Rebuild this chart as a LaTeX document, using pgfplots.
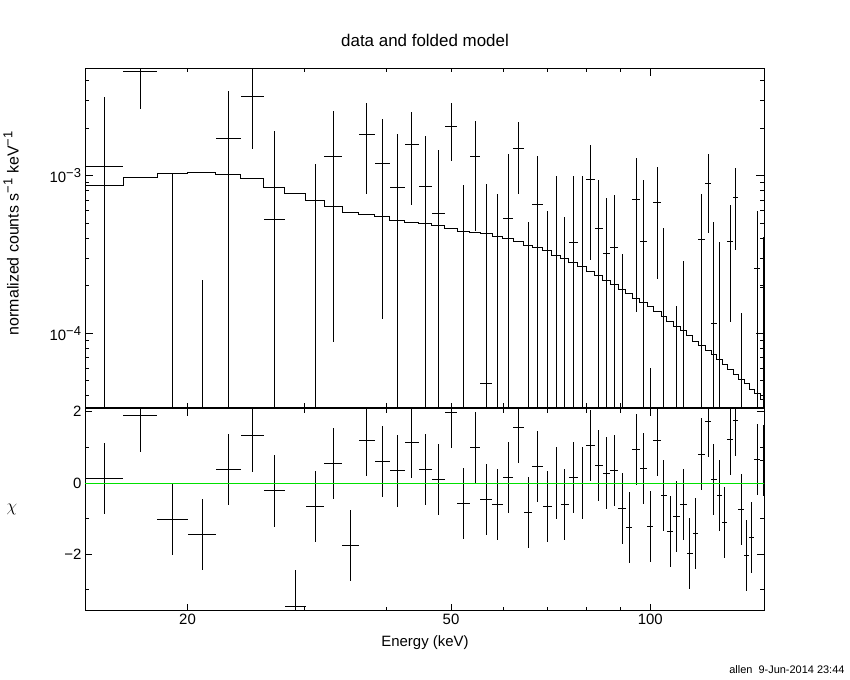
\documentclass[border=0pt]{standalone}
\usepackage{pgfplots}
\pgfplotsset{compat=1.18}
\usepackage{pgfplotstable}
\usepackage{fontspec}
\setmainfont{Liberation Sans}
\definecolor{zgreen}{RGB}{0,225,0}
\newcommand\lab{\fontsize{15}{18}\selectfont}

\pgfplotstableread{
x xlo xhi y ylo yhi
15.00 14.00 16.00 1.147e-3 1e-6 3.158e-3
17.00 16.00 18.00 4.597e-3 2.661e-3 6.53e-3
19.00 18.00 20.00 1e-6 1e-6 1.03e-3
21.03 20.00 22.05 1e-6 1e-6 2.18e-4
23.05 22.05 24.05 1.717e-3 1e-6 3.447e-3
25.05 24.05 26.05 3.19e-3 1.483e-3 4.9e-3
27.04 26.05 28.03 5.29e-4 1e-6 1.921e-3
31.17 30.16 32.17 1e-6 1e-6 1.186e-3
33.21 32.17 34.25 1.327e-3 8.8e-5 2.573e-3
37.30 36.26 38.34 1.831e-3 7.7e-4 2.892e-3
39.39 38.34 40.43 1.199e-3 1.227e-4 2.28e-3
41.49 40.43 42.55 8.44e-4 1e-6 1.839e-3
43.62 42.55 44.68 1.582e-3 6.55e-4 2.526e-3
45.74 44.68 46.79 8.56e-4 1e-6 1.778e-3
47.87 46.79 48.95 5.77e-4 1e-6 1.456e-3
50.02 48.95 51.09 2.058e-3 1.245e-3 2.879e-3
52.25 51.09 53.40 1e-6 1e-6 8.69e-4
54.38 53.40 55.35 1.327e-3 4.48e-4 2.214e-3
56.53 55.35 57.71 4.77e-5 1e-6 8.86e-4
58.77 57.71 59.83 1e-6 1e-6 7.65e-4
60.96 59.83 62.08 5.37e-4 1e-6 1.373e-3
63.26 62.08 64.43 1.492e-3 7.69e-4 2.191e-3
65.41 64.43 66.38 1e-6 1e-6 5.08e-4
67.58 66.38 68.78 6.58e-4 1e-6 1.327e-3
69.88 68.78 70.97 1e-6 1e-6 5.97e-4
72.10 70.97 73.23 3.11e-4 1e-6 9.96e-4
74.30 73.23 75.37 1e-6 1e-6 5.45e-4
76.57 75.37 77.77 3.78e-4 1e-6 9.96e-4
78.87 77.77 79.97 2.65e-4 1e-6 9.96e-4
81.20 79.97 82.42 9.39e-4 2.92e-4 1.566e-3
83.56 82.42 84.69 4.64e-4 1e-6 9.39e-4
85.86 84.69 87.02 3.22e-4 1e-6 7.25e-4
88.25 87.02 89.48 3.51e-4 1e-6 7.54e-4
90.65 89.48 91.81 1e-6 1e-6 3.18e-4
95.17 93.94 96.39 7.11e-4 1.371e-4 1.289e-3
97.68 96.39 98.97 3.84e-4 1e-6 9.39e-4
100.02 98.97 101.06 1e-6 1e-6 6.05e-5
102.43 101.06 103.8 6.78e-4 2.21e-4 1.131e-3
104.85 103.8 105.9 1e-6 1e-6 4.66e-4
109.6 108.3 110.9 1e-6 1e-6 1.49e-4
112.2 110.9 113.5 1e-6 1e-6 2.88e-4
119.6 118.2 121.0 3.91e-4 1e-6 7.65e-4
122.25 121.0 123.5 8.95e-4 4.31e-4 1.373e-3
124.75 123.5 126.0 1.157e-4 1e-6 5.08e-4
127.25 126.0 128.5 1e-6 1e-6 3.80e-4
132.1 130.7 133.5 3.84e-4 1.185e-4 6.52e-4
134.65 133.5 135.8 7.32e-4 3.39e-4 1.119e-3
137.2 135.8 138.6 1e-6 1e-6 1.345e-4
145.05 143.6 146.5 2.585e-4 1e-6 5.99e-4
148.25 146.5 150.0 1.947e-4 1e-6 4.10e-4
}\dataup

\pgfplotstableread{
xlo m
14.00 8.60e-4
16.00 9.77e-4
18.00 1.025e-3
20.00 1.045e-3
22.05 1.021e-3
24.05 9.57e-4
26.05 8.44e-4
28.03 7.69e-4
30.16 6.98e-4
32.17 6.33e-4
34.25 5.86e-4
36.26 5.65e-4
38.34 5.47e-4
40.43 5.21e-4
42.55 5.03e-4
44.68 4.94e-4
46.79 4.80e-4
48.95 4.61e-4
51.09 4.44e-4
53.40 4.35e-4
55.35 4.27e-4
57.71 4.14e-4
59.83 3.97e-4
62.08 3.81e-4
64.43 3.63e-4
66.38 3.48e-4
68.78 3.33e-4
70.97 3.11e-4
73.23 2.96e-4
75.37 2.81e-4
77.77 2.65e-4
79.97 2.48e-4
82.42 2.31e-4
84.69 2.16e-4
87.02 2.05e-4
89.48 1.90e-4
91.81 1.79e-4
93.94 1.67e-4
96.39 1.56e-4
98.97 1.475e-4
101.06 1.365e-4
103.8 1.274e-4
105.9 1.185e-4
108.3 1.101e-4
110.9 1.039e-4
113.5 9.61e-5
115.9 8.93e-5
118.2 8.34e-5
121.0 7.83e-5
123.5 7.28e-5
126.0 6.77e-5
128.5 6.29e-5
130.7 5.85e-5
133.5 5.49e-5
135.8 5.10e-5
138.6 4.77e-5
141.1 4.41e-5
143.6 4.12e-5
146.5 3.81e-5
150.0 3.81e-5
}\model

\pgfplotstableread{
x xlo xhi chi
15.00 14.00 16.00 0.13
17.00 16.00 18.00 1.88
19.00 18.00 20.00 -1.02
21.03 20.00 22.05 -1.44
23.05 22.05 24.05 0.38
25.05 24.05 26.05 1.32
27.04 26.05 28.03 -0.22
29.10 28.03 30.16 -3.45
31.17 30.16 32.17 -0.65
33.21 32.17 34.25 0.55
35.26 34.25 36.26 -1.75
37.30 36.26 38.34 1.20
39.39 38.34 40.43 0.61
41.49 40.43 42.55 0.34
43.62 42.55 44.68 1.14
45.74 44.68 46.79 0.38
47.87 46.79 48.95 0.10
50.02 48.95 51.09 1.98
52.25 51.09 53.40 -0.57
54.38 53.40 55.35 1.00
56.53 55.35 57.71 -0.46
58.77 57.71 59.83 -0.60
60.96 59.83 62.08 0.16
63.26 62.08 64.43 1.56
65.41 64.43 66.38 -0.82
67.58 66.38 68.78 0.47
69.88 68.78 70.97 -0.65
72.10 70.97 73.23 0.00
74.30 73.23 75.37 -0.60
76.57 75.37 77.77 0.16
78.87 77.77 79.97 0.00
81.20 79.97 82.42 1.06
83.56 82.42 84.69 0.50
85.86 84.69 87.02 0.28
88.25 87.02 89.48 0.36
90.65 89.48 91.81 -0.71
92.88 91.81 93.94 -1.24
95.17 93.94 96.39 0.94
97.68 96.39 98.97 0.41
100.02 98.97 101.06 -1.22
102.43 101.06 103.8 1.20
104.85 103.8 105.9 -0.35
107.1 105.9 108.3 -1.36
109.6 108.3 110.9 -0.93
112.2 110.9 113.5 -0.60
114.7 113.5 115.9 -1.97
117.05 115.9 118.2 -1.41
119.6 118.2 121.0 0.81
122.25 121.0 123.5 1.73
124.75 123.5 126.0 0.10
127.25 126.0 128.5 -0.35
129.6 128.5 130.7 -1.10
132.1 130.7 133.5 1.22
134.65 133.5 135.8 1.76
137.2 135.8 138.6 -0.74
139.85 138.6 141.1 -2.03
142.35 141.1 143.6 -1.53
145.05 143.6 146.5 0.66
148.25 146.5 150.0 0.64
}\datalo

\begin{document}
\begin{tikzpicture}
\path[use as bounding box] (0,0) rectangle (850bp,680bp);

\begin{axis}[
  scale only axis, width=679bp, height=339bp,
  at={(85bp,272.7bp)}, anchor=south west,
  xmode=log, ymode=log,
  xmin=14, xmax=148.5, ymin=3.39e-5, ymax=4.8e-3,
  axis line style={line width=1bp, black},
  tick align=inside,
  major tick length=8bp, minor tick length=4bp,
  tick style={line width=1bp, black},
  tick label style={font=\lab},
  xtick={100}, minor xtick={20,30,40,50,60,70,80,90},
  xticklabels={},
  ytick={1e-4,1e-3},
  yticklabels={10\textsuperscript{\fontsize{13}{13}\selectfont −4},10\textsuperscript{\fontsize{13}{13}\selectfont −3}},
  minor ytick={4e-5,5e-5,6e-5,7e-5,8e-5,9e-5,2e-4,3e-4,4e-4,5e-4,6e-4,7e-4,8e-4,9e-4,2e-3,3e-3,4e-3},
]
\addplot[black, line width=1bp, const plot] table[x=xlo, y=m] {\model};
\addplot[black, only marks, mark=text, text mark={},
  error bars/.cd, x dir=both, x explicit, y dir=both, y explicit,
  error mark=none, error bar style={black, line width=1bp, solid}]
  table[x=x, y=y,
    x error minus expr=\thisrow{x}-\thisrow{xlo},
    x error plus expr=\thisrow{xhi}-\thisrow{x},
    y error minus expr=\thisrow{y}-\thisrow{ylo},
    y error plus expr=\thisrow{yhi}-\thisrow{y}] {\dataup};
\end{axis}

\begin{axis}[
  scale only axis, width=679bp, height=202bp,
  at={(85bp,69bp)}, anchor=south west,
  xmode=log,
  xmin=14, xmax=148.5, ymin=-3.59, ymax=2.076,
  axis line style={line width=1bp, black},
  tick align=inside,
  major tick length=7bp, minor tick length=4bp,
  tick style={line width=1bp, black},
  tick label style={font=\lab},
  xtick={20,50,100}, xticklabels={20,50,100},
  minor xtick={30,40,60,70,80,90},
  ytick={-2,0,2}, yticklabels={−2,0,2},
  minor ytick={-3,-1,1},
]
\addplot[black, only marks, mark=text, text mark={},
  error bars/.cd, x dir=both, x explicit, y dir=both, y fixed=1,
  error mark=none, error bar style={black, line width=1bp, solid}]
  table[x=x, y=chi,
    x error minus expr=\thisrow{x}-\thisrow{xlo},
    x error plus expr=\thisrow{xhi}-\thisrow{x}] {\datalo};
\addplot[zgreen, line width=1bp] coordinates {(14,0) (150,0)};
\end{axis}

\node[font=\fontsize{17}{20}\selectfont] at (425bp,640bp) {data and folded model};
\node[font=\fontsize{16}{19}\selectfont, rotate=90] at (11bp,447bp) {normalized counts s\textsuperscript{\fontsize{13}{13}\selectfont −1} keV\textsuperscript{\fontsize{13}{13}\selectfont −1}};
\node[font=\fontsize{16}{19}\selectfont] at (12bp,171bp) {$\chi$};
\node[font=\lab] at (425bp,37bp) {Energy (keV)};
\node[font=\fontsize{11}{13}\selectfont, anchor=east] at (848bp,10bp) {allen\ \ 9-Jun-2014 23:44};
\end{tikzpicture}
\end{document}
